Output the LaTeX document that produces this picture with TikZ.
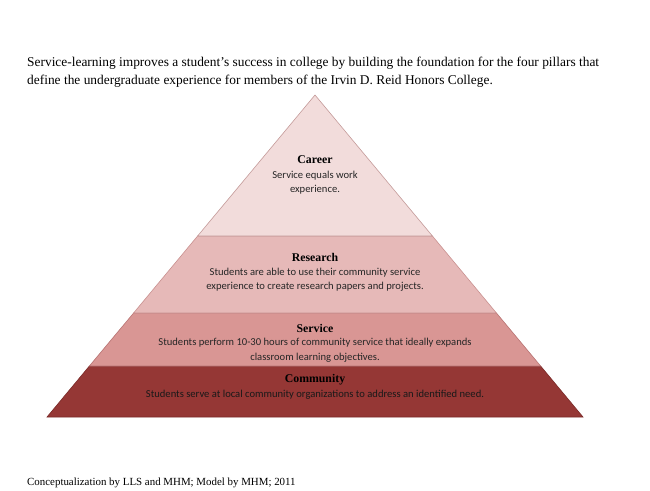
\documentclass[tikz,border=0pt]{standalone}
\usepackage{fontspec}
\setmainfont{Liberation Serif}
\newfontfamily\bodyfont{Carlito}
\definecolor{careerfill}{HTML}{F2DCDB}
\definecolor{researchfill}{HTML}{E6B9B8}
\definecolor{servicefill}{HTML}{D99694}
\definecolor{communityfill}{HTML}{953735}
\definecolor{careerline}{HTML}{C49A99}
\definecolor{researchline}{HTML}{C99190}
\definecolor{serviceline}{HTML}{B87372}
\definecolor{communityline}{HTML}{7A2A28}
\definecolor{textgray}{HTML}{262626}
\begin{document}
\begin{tikzpicture}[x=1pt,y=-1pt,
  layer/.style={line width=0.6pt},
  ttl/.style={font=\fontsize{11.8}{13}\selectfont\bfseries, text=black, inner sep=0pt, anchor=center},
  body/.style={font=\bodyfont\fontsize{10.6}{14}\selectfont, text=textgray, align=center, inner sep=0pt, anchor=north},
  intro/.style={font=\fontsize{13.4}{18}\selectfont, anchor=base west, inner sep=0pt},
  credit/.style={font=\fontsize{10.9}{12}\selectfont, anchor=base west, inner sep=0pt}]
\useasboundingbox (0,0) rectangle (650,490);
% layer corners
\coordinate (apex) at (315,95);
\coordinate (l1) at (197.6,236); \coordinate (r1) at (432.4,236);
\coordinate (l2) at (133.6,313); \coordinate (r2) at (496.4,313);
\coordinate (l3) at (89.4,366);  \coordinate (r3) at (540.6,366);
\coordinate (l4) at (47,417);    \coordinate (r4) at (583,417);
% layers
\draw[layer, fill=communityfill, draw=communityline] (l3) -- (r3) -- (r4) -- (l4) -- cycle;
\draw[layer, fill=servicefill, draw=serviceline] (l2) -- (r2) -- (r3) -- (l3) -- cycle;
\draw[layer, fill=researchfill, draw=researchline] (l1) -- (r1) -- (r2) -- (l2) -- cycle;
\draw[layer, fill=careerfill, draw=careerline] (apex) -- (r1) -- (l1) -- cycle;
% intro text
\node[intro] (intro1) at (27,66) {Service-learning improves a student’s success in college by building the foundation for the four pillars that};
\node[intro] (intro2) at (27,84) {define the undergraduate experience for members of the Irvin D. Reid Honors College.};
% career
\node[ttl] (careert) at (315,160) {Career};
\node[body] (careerb) at (315,171) {Service equals work\\experience.};
% research
\node[ttl] (researcht) at (315,257) {Research};
\node[body] (researchb) at (315,268) {Students are able to use their community service\\experience to create research papers and projects.};
% service
\node[ttl] (servicet) at (315,328) {Service};
\node[body, font=\bodyfont\fontsize{10.6}{14.5}\selectfont] (serviceb) at (315,338) {Students perform 10-30 hours of community service that ideally expands\\classroom learning objectives.};
% community
\node[ttl] (communityt) at (315,380) {Community};
\node[body, text=black!90] (communityb) at (315,390) {Students serve at local community organizations to address an identified need.};
% credit
\node[credit] (credit) at (27,485) {Conceptualization by LLS and MHM; Model by MHM; 2011};
\end{tikzpicture}
\end{document}
